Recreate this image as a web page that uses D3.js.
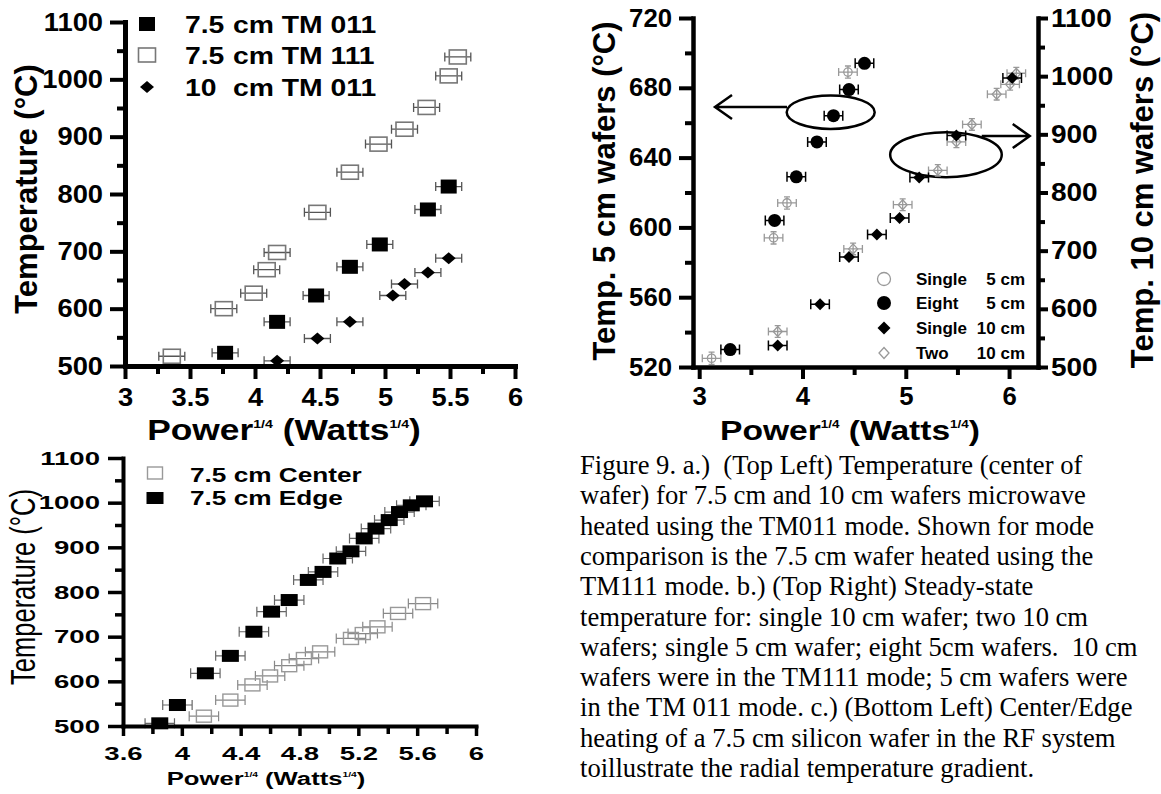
<!DOCTYPE html>
<html>
<head>
<meta charset="utf-8">
<script src="https://cdn.jsdelivr.net/npm/d3@7"></script>
<style>
  body { margin: 0; background: #fff; }
  text { white-space: pre; }
</style>
</head>
<body>
<div id="fig"></div>
<script>
// ---- data ----
// a.) top left: temperature vs power^1/4
const tlX011 = [3.77, 4.17, 4.47, 4.73, 4.96, 5.33, 5.49];
const tlT011 = [523, 577, 623, 673, 712, 773, 813];
const tlX111 = [3.36, 3.76, 3.99, 4.09, 4.17, 4.48, 4.73, 4.95, 5.15, 5.32, 5.49, 5.56];
const tlT111 = [517, 600, 627, 668, 698, 768, 838, 887, 913, 951, 1006, 1039];
const tlX10 = [4.17, 4.48, 4.73, 5.06, 5.15, 5.33, 5.49];
const tlT10 = [509, 548, 577, 623, 643, 663, 688];
const tlXTicks = [3, 3.5, 4, 4.5, 5, 5.5, 6];
const tlYTicks = [500, 600, 700, 800, 900, 1000, 1100];
const tlLegend = [["7.5", "cm TM 011"], ["7.5", "cm TM 111"], ["10", "cm TM 011"]];

// b.) top right: 5 cm wafers on left axis, 10 cm wafers on right axis
const trXSingle5 = [3.12, 3.72, 3.85, 4.44];
const trTSingle5 = [525, 594, 614, 689];
const trXEight5 = [3.30, 3.73, 3.94, 4.14, 4.30, 4.45, 4.60];
const trTEight5 = [530, 604, 629, 649, 664, 679, 694];
const trXSingle10 = [3.76, 4.17, 4.45, 4.72, 4.94, 5.13, 5.49, 6.03];
const trTSingle10 = [537, 608, 689, 728, 756, 826, 898, 997];
const trXTwo10 = [3.76, 4.49, 4.97, 5.31, 5.49, 5.64, 5.88, 6.01, 6.07];
const trTTwo10 = [561, 703, 779, 838, 887, 917, 969, 986, 1005];
const trXTicks = [3, 4, 5, 6];
const trYLeftTicks = [520, 560, 600, 640, 680, 720];
const trYRightTicks = [500, 600, 700, 800, 900, 1000, 1100];
const trLegend = [["Single", "5 cm"], ["Eight", "5 cm"], ["Single", "10 cm"], ["Two", "10 cm"]];

// c.) bottom left: center / edge of a 7.5 cm wafer
const blXEdge = [3.85, 3.97, 4.16, 4.33, 4.49, 4.61, 4.73, 4.86, 4.96, 5.06, 5.15, 5.24, 5.32, 5.41, 5.48, 5.56, 5.65];
const blTEdge = [506, 547, 618, 657, 711, 756, 782, 827, 845, 875, 891, 920, 942, 961, 979, 994, 1003];
const blXCenter = [4.15, 4.33, 4.48, 4.60, 4.73, 4.83, 4.94, 5.15, 5.23, 5.33, 5.47, 5.64];
const blTCenter = [522, 558, 592, 612, 635, 651, 666, 696, 707, 722, 752, 774];
const blXTicks = [3.6, 4, 4.4, 4.8, 5.2, 5.6, 6];
const blXMinor = [3.8, 4.2, 4.6, 5.0, 5.4, 5.8];
const blYTicks = [500, 600, 700, 800, 900, 1000, 1100];
const blLegend = ["7.5 cm Center", "7.5 cm Edge"];

const caption = [
  "Figure 9. a.)  (Top Left) Temperature (center of",
  "wafer) for 7.5 cm and 10 cm wafers microwave",
  "heated using the TM011 mode. Shown for mode",
  "comparison is the 7.5 cm wafer heated using the",
  "TM111 mode. b.) (Top Right) Steady-state",
  "temperature for: single 10 cm wafer; two 10 cm",
  "wafers; single 5 cm wafer; eight 5cm wafers.  10 cm",
  "wafers were in the TM111 mode; 5 cm wafers were",
  "in the TM 011 mode. c.) (Bottom Left) Center/Edge",
  "heating of a 7.5 cm silicon wafer in the RF system",
  "toillustrate the radial temperature gradient."
];

const SANS = "'Liberation Sans', Arial, sans-serif";
const SERIF = "'Liberation Serif', 'Times New Roman', serif";

const svg = d3.select("#fig").append("svg")
  .attr("width", 1161)
  .attr("height", 794)
  .style("background", "#fff");

const zip = (xs, ys) => xs.map((x, i) => [x, ys[i]]);
const midpoints = t => t.slice(1).map((v, i) => (v + t[i]) / 2);

// axis with bold labels, thick line and half-way minor ticks
function drawAxis(axisFn, scale, major, o) {
  const a = axisFn(scale).tickValues(major).tickSize(o.size).tickSizeOuter(0)
    .tickPadding(o.pad).tickFormat(d => String(d));
  const g = svg.append("g").attr("transform", o.at).call(a);
  g.select(".domain").attr("stroke-width", o.lw).attr("stroke-linecap", "square");
  g.selectAll(".tick line").attr("stroke-width", o.tw);
  const t = g.selectAll(".tick text")
    .attr("font-size", o.fs)
    .attr("font-weight", "bold")
    .attr("font-family", SANS)
    .attr("fill", "#000");
  if (o.sx && o.sx !== 1) {
    t.each(function() {
      const el = d3.select(this);
      el.attr("x", (+el.attr("x") || 0) / o.sx).attr("transform", `scale(${o.sx},1)`);
    });
  }
  const minor = o.minor || midpoints(major);
  const gm = svg.append("g").attr("transform", o.at)
    .call(axisFn(scale).tickValues(minor).tickSize(o.minorSize).tickSizeOuter(0).tickFormat(""));
  gm.select(".domain").remove();
  gm.selectAll(".tick line").attr("stroke-width", o.tw);
}

function errBars(pts, sx, sy, dx, cap, color, w) {
  svg.append("g").selectAll("path").data(pts).join("path")
    .attr("d", d => {
      const x0 = sx(d[0] - dx), x1 = sx(d[0] + dx), y = sy(d[1]);
      return `M${x0},${y}H${x1}M${x0},${y - cap}V${y + cap}M${x1},${y - cap}V${y + cap}`;
    })
    .attr("fill", "none").attr("stroke", color).attr("stroke-width", w);
}

function vErrBars(pts, sx, sy, dy, cap, color, w) {
  svg.append("g").selectAll("path").data(pts).join("path")
    .attr("d", d => {
      const x = sx(d[0]), y0 = sy(d[1] - dy), y1 = sy(d[1] + dy);
      return `M${x},${y0}V${y1}M${x - cap},${y0}H${x + cap}M${x - cap},${y1}H${x + cap}`;
    })
    .attr("fill", "none").attr("stroke", color).attr("stroke-width", w);
}

function squares(pts, sx, sy, w, h, fill, stroke, sw) {
  svg.append("g").selectAll("rect").data(pts).join("rect")
    .attr("x", d => sx(d[0]) - w / 2).attr("y", d => sy(d[1]) - h / 2)
    .attr("width", w).attr("height", h)
    .attr("fill", fill).attr("stroke", stroke).attr("stroke-width", sw);
}

const diamondPath = (x, y, w, h) => `M${x},${y - h / 2}L${x + w / 2},${y}L${x},${y + h / 2}L${x - w / 2},${y}Z`;

function diamonds(pts, sx, sy, w, h, fill, stroke, sw) {
  svg.append("g").selectAll("path").data(pts).join("path")
    .attr("d", d => diamondPath(sx(d[0]), sy(d[1]), w, h))
    .attr("fill", fill).attr("stroke", stroke).attr("stroke-width", sw);
}

function circles(pts, sx, sy, r, fill, stroke, sw) {
  svg.append("g").selectAll("circle").data(pts).join("circle")
    .attr("cx", d => sx(d[0])).attr("cy", d => sy(d[1])).attr("r", r)
    .attr("fill", fill).attr("stroke", stroke).attr("stroke-width", sw);
}

function powerTitle(x, y, fs, sx, weight) {
  const t = svg.append("text")
    .attr("transform", `translate(${x},${y}) scale(${sx},1)`)
    .attr("text-anchor", "middle")
    .attr("font-family", SANS).attr("font-size", fs).attr("font-weight", weight);
  const s = fs * 0.4;
  t.append("tspan").text("Power");
  t.append("tspan").attr("font-size", s).attr("dy", -fs * 0.42).text("1/4");
  t.append("tspan").attr("dy", fs * 0.42).text(" (Watts");
  t.append("tspan").attr("font-size", s).attr("dy", -fs * 0.42).text("1/4");
  t.append("tspan").attr("dy", fs * 0.42).text(")");
}

function yTitle(x, y, fs, txt, weight, stretch) {
  svg.append("text")
    .attr("transform", `translate(${x},${y}) rotate(-90) scale(1,${stretch})`)
    .attr("text-anchor", "middle")
    .attr("font-family", SANS).attr("font-size", fs).attr("font-weight", weight)
    .text(txt);
}

// ================= a.) top left =================
{
  const x = d3.scaleLinear().domain([3, 6]).range([125, 515]);
  const y = d3.scaleLinear().domain([500, 1100]).range([366, 22]);

  errBars(zip(tlX111, tlT111), x, y, 0.1, 4.5, "#555", 1.3);
  errBars(zip(tlX011, tlT011), x, y, 0.1, 4.5, "#555", 1.3);
  errBars(zip(tlX10, tlT10), x, y, 0.1, 4.5, "#555", 1.3);
  squares(zip(tlX111, tlT111), x, y, 17, 14, "none", "#777", 1.6);
  squares(zip(tlX011, tlT011), x, y, 16, 14, "#000", "none", 0);
  diamonds(zip(tlX10, tlT10), x, y, 14, 12, "#000", "none", 0);

  drawAxis(d3.axisLeft, y, tlYTicks, {at: "translate(125,0)", size: 15, minorSize: 8, pad: 7, lw: 5, tw: 4, fs: 26, sx: 1.05});
  drawAxis(d3.axisBottom, x, tlXTicks, {at: "translate(0,366)", size: 13, minorSize: 8, pad: 9, lw: 5, tw: 4, fs: 26, sx: 1.05});

  // legend
  const ly = [24, 55, 87];
  squares([[147, ly[0]]], v => v, v => v, 16, 14, "#000", "none", 0);
  squares([[147, ly[1]]], v => v, v => v, 17, 14, "none", "#777", 1.6);
  diamonds([[147, ly[2]]], v => v, v => v, 14, 12, "#000", "none", 0);
  tlLegend.forEach((d, i) => {
    [[185, d[0]], [233, d[1]]].forEach(([lx, s]) => {
      svg.append("text")
        .attr("transform", `translate(${lx},${ly[i] + 9}) scale(1.18,1)`)
        .attr("font-family", SANS).attr("font-size", 24).attr("font-weight", "bold")
        .text(s);
    });
  });

  yTitle(37, 189, 31, "Temperature (°C)", "bold", 1);
  powerTitle(284, 440, 29, 1.22, "bold");
}

// ================= b.) top right =================
{
  const x = d3.scaleLinear().domain([2.94, 6.28]).range([693, 1038]);
  const yL = d3.scaleLinear().domain([520, 720]).range([367, 18]);
  const yR = d3.scaleLinear().domain([500, 1100]).range([367, 18]);

  // annotations: ellipses with arrows to the matching axis
  const g = svg.append("g").attr("fill", "none").attr("stroke", "#000").attr("stroke-width", 2.5);
  g.append("ellipse").attr("cx", x(4.273)).attr("cy", yL(666)).attr("rx", x(4.273) - x(3.847)).attr("ry", 16.7);
  g.append("ellipse").attr("cx", x(5.389)).attr("cy", yR(865)).attr("rx", x(5.389) - x(4.849)).attr("ry", 22.5);
  const a1y = yL(669), a1x = x(3.153);
  g.append("path").attr("d", `M${x(3.85)},${a1y}H${a1x}M${a1x + 17},${a1y - 12}L${a1x},${a1y}L${a1x + 17},${a1y + 12}`);
  const a2y = yR(897), a2x = x(6.2);
  g.append("path").attr("d", `M${x(5.735)},${a2y}H${a2x}M${a2x - 17},${a2y - 12}L${a2x},${a2y}L${a2x - 17},${a2y + 12}`);

  const grey = "#999";
  errBars(zip(trXSingle5, trTSingle5), x, yL, 0.09, 4, grey, 1.3);
  vErrBars(zip(trXSingle5, trTSingle5), x, yL, 3.5, 3, grey, 1.3);
  errBars(zip(trXTwo10, trTTwo10), x, yR, 0.09, 4, grey, 1.3);
  vErrBars(zip(trXTwo10, trTTwo10), x, yR, 10, 3, grey, 1.3);
  circles(zip(trXSingle5, trTSingle5), x, yL, 4.2, "none", grey, 1.3);
  diamonds(zip(trXTwo10, trTTwo10), x, yR, 9, 10, "none", grey, 1.3);
  errBars(zip(trXEight5, trTEight5), x, yL, 0.09, 5, "#000", 1.5);
  errBars(zip(trXSingle10, trTSingle10), x, yR, 0.09, 5, "#000", 1.5);
  circles(zip(trXEight5, trTEight5), x, yL, 6.5, "#000", "none", 0);
  diamonds(zip(trXSingle10, trTSingle10), x, yR, 12, 12, "#000", "none", 0);

  drawAxis(d3.axisLeft, yL, trYLeftTicks, {at: "translate(693,0)", size: 14, minorSize: 8, pad: 7, lw: 4.5, tw: 4, fs: 25, sx: 1.03});
  drawAxis(d3.axisRight, yR, trYRightTicks, {at: "translate(1038,0)", size: 10, minorSize: 7, pad: 3, lw: 4.5, tw: 4, fs: 25, sx: 1.12});
  drawAxis(d3.axisBottom, x, trXTicks, {at: "translate(0,367)", size: 12, minorSize: 8, pad: 8, lw: 4.5, tw: 4, fs: 25, sx: 1.03});

  // legend
  const ly = [279, 303, 328, 353], lx = 884;
  circles([[lx, ly[0]]], v => v, v => v, 6.5, "none", grey, 1.3);
  circles([[lx, ly[1]]], v => v, v => v, 7, "#000", "none", 0);
  diamonds([[lx, ly[2]]], v => v, v => v, 13, 13, "#000", "none", 0);
  diamonds([[lx, ly[3]]], v => v, v => v, 10, 11, "none", grey, 1.3);
  trLegend.forEach((d, i) => {
    svg.append("text").attr("x", 916).attr("y", ly[i] + 6)
      .attr("font-family", SANS).attr("font-size", 17).attr("font-weight", "bold").text(d[0]);
    svg.append("text").attr("x", 1025).attr("y", ly[i] + 6).attr("text-anchor", "end")
      .attr("font-family", SANS).attr("font-size", 17).attr("font-weight", "bold").text(d[1]);
  });

  yTitle(615, 191, 31, "Temp. 5 cm wafers (°C)", "bold", 1);
  yTitle(1153, 190, 31, "Temp. 10 cm wafers (°C)", "bold", 1);
  powerTitle(850, 440, 28, 1.2, "bold");
}

// ================= c.) bottom left =================
{
  const x = d3.scaleLinear().domain([3.6, 6]).range([123, 476]);
  const y = d3.scaleLinear().domain([500, 1100]).range([726, 458]);

  errBars(zip(blXCenter, blTCenter), x, y, 0.1, 5, "#888", 1.2);
  errBars(zip(blXEdge, blTEdge), x, y, 0.1, 5, "#666", 1.2);
  squares(zip(blXCenter, blTCenter), x, y, 15, 12, "none", "#999", 1.4);
  squares(zip(blXEdge, blTEdge), x, y, 17, 12, "#000", "none", 0);

  drawAxis(d3.axisLeft, y, blYTicks, {at: "translate(123,0)", size: 15, minorSize: 8, pad: 8, lw: 4, tw: 3.5, fs: 19, sx: 1.45});
  drawAxis(d3.axisBottom, x, blXTicks, {at: "translate(0,726)", size: 10, minorSize: 8, pad: 11, lw: 4, tw: 3.5, fs: 19, sx: 1.45, minor: blXMinor});

  squares([[155, 473]], v => v, v => v, 15, 12, "none", "#999", 1.4);
  squares([[155, 498]], v => v, v => v, 17, 12, "#000", "none", 0);
  blLegend.forEach((s, i) => {
    svg.append("text")
      .attr("transform", `translate(190,${[482, 505][i]}) scale(1.31,1)`)
      .attr("font-family", SANS).attr("font-size", 20).attr("font-weight", "bold").text(s);
  });

  yTitle(35, 587, 25.5, "Temperature (°C)", "normal", 1.4);
  powerTitle(266, 785, 19, 1.35, "bold");
}

// ================= caption =================
svg.append("g").selectAll("text").data(caption).join("text")
  .attr("x", 580)
  .attr("y", (d, i) => 474 + i * 30.3)
  .attr("font-family", SERIF)
  .attr("font-size", 26.6)
  .text(d => d);
</script>
</body>
</html>
